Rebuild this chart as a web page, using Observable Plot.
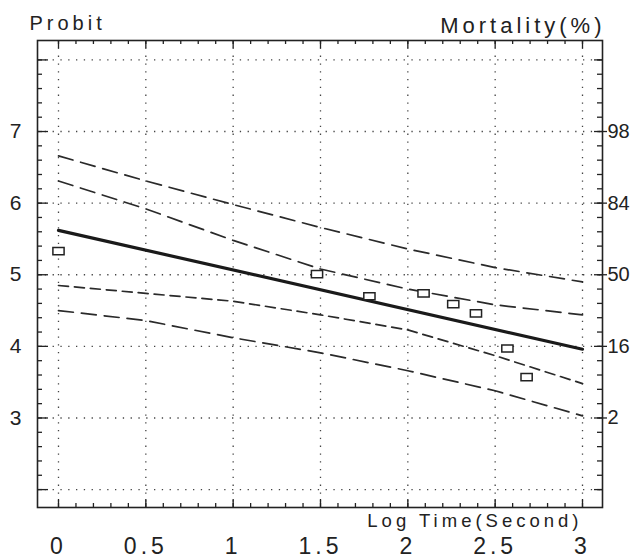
<!DOCTYPE html>
<html><head><meta charset="utf-8">
<script src="https://cdn.jsdelivr.net/npm/d3@7"></script>
<script src="https://cdn.jsdelivr.net/npm/@observablehq/plot@0.6"></script>
<style>
html,body{margin:0;padding:0;background:#fff;}
#chart{width:636px;height:558px;}
</style></head><body><div id="chart"></div>
<script>
// ---- data ----
const logTime      = [0, 0.5, 1, 1.5, 2, 2.5, 3];
const upperOuter   = [6.66, 6.31, 5.98, 5.66, 5.36, 5.10, 4.90];
const upperInner   = [6.31, 5.92, 5.48, 5.08, 4.80, 4.58, 4.44];
const lowerInner   = [4.85, 4.74, 4.63, 4.44, 4.23, 3.87, 3.48];
const lowerOuter   = [4.50, 4.36, 4.12, 3.91, 3.66, 3.38, 3.03];
const fitTime      = [0, 3];
const fitProbit    = [5.62, 3.96];
const obsTime      = [0, 1.48, 1.78, 2.09, 2.26, 2.39, 2.57, 2.68];
const obsProbit    = [5.33, 5.01, 4.70, 4.74, 4.59, 4.46, 3.97, 3.57];

const xTickValues  = [0, 0.5, 1, 1.5, 2, 2.5, 3];
const xTickLabels  = ["0", "0.5", "1", "1.5", "2", "2.5", "3"];
const probitTicks  = [7, 6, 5, 4, 3];
const probitLabels = ["7", "6", "5", "4", "3"];
const mortLabels   = ["98", "84", "50", "16", "2"];
const gridProbit   = [2, 3, 4, 5, 6, 7, 8];
const xMinorTicks  = d3.range(0, 31).map(i => i / 10);
const yMinorTicks  = d3.range(0, 31).map(i => 2 + i / 5);

const W = 636, H = 558, mL = 37, mR = 34, mT = 40, mB = 51;
const innerW = W - mL - mR, innerH = H - mT - mB;
const ink = "#222";

const series = (ys) => logTime.map((t, i) => ({t, p: ys[i]}));
const fit = fitTime.map((t, i) => ({t, p: fitProbit[i]}));
const obs = obsTime.map((t, i) => ({t, p: obsProbit[i]}));
const xLab = new Map(xTickValues.map((v, i) => [v, xTickLabels[i]]));
const leftLab = new Map(probitTicks.map((v, i) => [v, probitLabels[i]]));
const rightLab = new Map(probitTicks.map((v, i) => [v, mortLabels[i]]));

const rectSymbol = {
  draw(ctx, size) {
    const r = Math.sqrt(size / Math.PI), w = r * 1.4, h = r * 0.9;
    ctx.moveTo(-w, -h); ctx.lineTo(w, -h); ctx.lineTo(w, h); ctx.lineTo(-w, h); ctx.closePath();
  }
};

const gridStyle = {stroke: "#444", strokeWidth: 1.3, strokeDasharray: "1.3,6.5"};
const tickStyle = {stroke: ink, strokeWidth: 1.3};

const chart = Plot.plot({
  width: W, height: H,
  marginLeft: mL, marginRight: mR, marginTop: mT, marginBottom: mB,
  style: {fontFamily: "'Liberation Sans', Arial, sans-serif", color: ink, background: "#fff"},
  x: {domain: [-0.1202, 3.1145]},
  y: {domain: [1.75, 8.271]},
  marks: [
    // dotted grid
    Plot.ruleX(xTickValues, {x: d => d, ...gridStyle}),
    Plot.ruleY(gridProbit, {y: d => d, ...gridStyle}),
    // inner ticks: bottom / top
    Plot.ruleX(xMinorTicks, {x: d => d, insetTop: innerH - 4, ...tickStyle}),
    Plot.ruleX(xTickValues, {x: d => d, insetTop: innerH - 8, ...tickStyle}),
    Plot.ruleX(xMinorTicks, {x: d => d, insetBottom: innerH - 4, ...tickStyle}),
    Plot.ruleX(xTickValues, {x: d => d, insetBottom: innerH - 8, ...tickStyle}),
    // inner ticks: left / right
    Plot.ruleY(yMinorTicks, {y: d => d, insetRight: innerW - 5, ...tickStyle}),
    Plot.ruleY(gridProbit, {y: d => d, insetRight: innerW - 11, ...tickStyle}),
    Plot.ruleY(yMinorTicks, {y: d => d, insetLeft: innerW - 5, ...tickStyle}),
    Plot.ruleY(gridProbit, {y: d => d, insetLeft: innerW - 8, ...tickStyle}),
    Plot.frame({stroke: ink, strokeWidth: 1.6}),
    // confidence bands
    Plot.line(series(upperOuter), {x: "t", y: "p", stroke: "#2a2a2a", strokeWidth: 1.7, strokeDasharray: "15,8"}),
    Plot.line(series(upperInner), {x: "t", y: "p", stroke: "#2a2a2a", strokeWidth: 1.7, strokeDasharray: "15,8"}),
    Plot.line(series(lowerInner), {x: "t", y: "p", stroke: "#2a2a2a", strokeWidth: 1.7, strokeDasharray: "10,6"}),
    Plot.line(series(lowerOuter), {x: "t", y: "p", stroke: "#2a2a2a", strokeWidth: 1.7, strokeDasharray: "15,8"}),
    // fitted probit line
    Plot.line(fit, {x: "t", y: "p", stroke: "#1a1a1a", strokeWidth: 3.2}),
    // observations
    Plot.dot(obs, {x: "t", y: "p", r: 4, symbol: rectSymbol, stroke: ink, strokeWidth: 1.5, fill: "white"}),
    // axes
    Plot.axisX(xTickValues, {anchor: "bottom", tickSize: 0, tickPadding: 30, fontSize: 23, tickFormat: d => xLab.get(d), label: null}),
    Plot.axisY(probitTicks, {anchor: "left", tickSize: 0, tickPadding: 16, fontSize: 21, tickFormat: d => leftLab.get(d), label: null}),
    Plot.axisY(probitTicks, {anchor: "right", tickSize: 4, tickPadding: 1, fontSize: 20, tickFormat: d => rightLab.get(d), label: null, strokeWidth: 1.3}),
    // titles
    Plot.text(["Probit"], {text: d => d, frameAnchor: "top-left", textAnchor: "start", lineAnchor: "bottom", dx: -8, dy: -11, fontSize: 20, fill: ink}),
    Plot.text(["Mortality(%)"], {text: d => d, frameAnchor: "top-right", textAnchor: "end", lineAnchor: "bottom", dx: 3, dy: -8, fontSize: 22, fill: ink}),
    Plot.text(["Log Time(Second)"], {text: d => d, frameAnchor: "bottom-right", textAnchor: "end", lineAnchor: "bottom", dx: -20, dy: 19, fontSize: 18.5, fill: ink})
  ]
});

const svg = d3.select(chart);
svg.selectAll("text").each(function() {
  const t = this.textContent;
  if (t === "Probit" || t === "Mortality(%)" || t === "Log Time(Second)") d3.select(this).attr("letter-spacing", "4px");
});
svg.selectAll('g[aria-label="x-axis tick label"] text').attr("letter-spacing", "4px");
svg.selectAll("text").attr("fill", ink);
document.getElementById("chart").appendChild(chart);
</script>
</body></html>
